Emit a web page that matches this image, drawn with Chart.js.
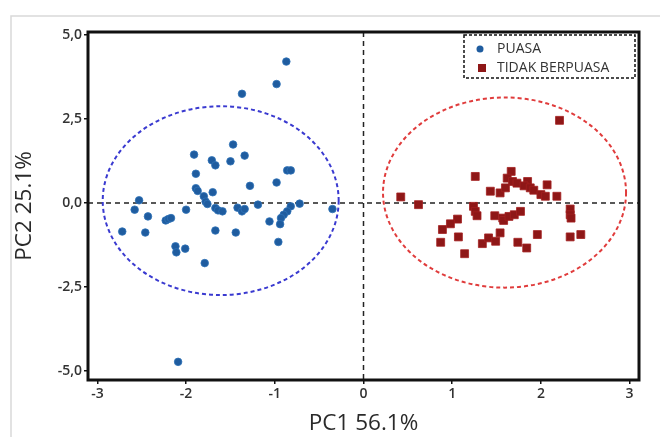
<!DOCTYPE html>
<html lang="id">
<head>
    <meta charset="UTF-8">
    <title>PCA Puasa vs Tidak Berpuasa</title>
    <script src="https://cdn.jsdelivr.net/npm/chart.js"></script>
    <style>
        body {
            margin: 0;
            padding: 0;
            background: #fff;
        }
        #wrap {
            width: 660px;
            height: 437px;
        }
    </style>
</head>
<body>
    <div id="wrap">
        <canvas id="pcaChart" width="660" height="437"></canvas>
    </div>

    <script>
        // scores: [PC1, PC2]
        const puasa = [
            [-0.87, 4.21], [-0.98, 3.54], [-1.37, 3.25], [-1.47, 1.74], [-1.91, 1.44],
            [-1.34, 1.41], [-1.71, 1.27], [-1.67, 1.12], [-1.50, 1.24], [-0.86, 0.97],
            [-0.82, 0.97], [-1.89, 0.87], [-0.98, 0.61], [-1.28, 0.51], [-1.89, 0.44],
            [-1.87, 0.36], [-1.70, 0.32], [-1.80, 0.20], [-2.53, 0.08], [-1.78, 0.04],
            [-1.76, -0.03], [-1.67, -0.15], [-1.64, -0.22], [-1.59, -0.25], [-1.42, -0.14],
            [-1.37, -0.25], [-1.34, -0.18], [-1.19, -0.05], [-0.72, -0.02], [-0.82, -0.10],
            [-0.86, -0.25], [-0.90, -0.35], [-0.93, -0.45], [-0.35, -0.18], [-2.58, -0.20],
            [-2.43, -0.40], [-2.00, -0.20], [-2.23, -0.52], [-2.20, -0.48], [-2.17, -0.45],
            [-2.72, -0.85], [-2.46, -0.88], [-1.67, -0.82], [-1.44, -0.88], [-1.06, -0.55],
            [-0.94, -0.63], [-0.96, -1.16], [-2.12, -1.29], [-2.11, -1.47], [-2.01, -1.36],
            [-1.79, -1.79], [-2.09, -4.73]
        ];
        const tidakBerpuasa = [
            [2.21, 2.46], [1.26, 0.79], [1.665, 0.94], [1.62, 0.74], [1.68, 0.64],
            [1.73, 0.59], [1.85, 0.64], [1.81, 0.51], [1.88, 0.45], [1.92, 0.38],
            [2.07, 0.54], [2.00, 0.25], [2.05, 0.20], [2.18, 0.20], [1.43, 0.35],
            [1.54, 0.30], [1.60, 0.45], [0.42, 0.18], [0.62, -0.05], [1.24, -0.10],
            [1.26, -0.25], [1.28, -0.38], [1.48, -0.38], [1.57, -0.45], [1.58, -0.52],
            [1.64, -0.40], [1.70, -0.35], [1.77, -0.25], [2.33, -0.18], [2.33, -0.35],
            [2.34, -0.45], [1.06, -0.48], [0.98, -0.62], [0.89, -0.79], [0.87, -1.17],
            [1.07, -1.01], [1.14, -1.51], [1.34, -1.21], [1.41, -1.04], [1.49, -1.14],
            [1.54, -0.89], [1.74, -1.17], [1.84, -1.34], [1.96, -0.94], [2.33, -1.01],
            [2.45, -0.94]
        ];
        const seriesNames = ["PUASA", "TIDAK BERPUASA"];

        // confidence ellipses: [centre PC1, centre PC2, half-width, half-height]
        const ellipsePuasa = [-1.61, 0.07, 1.33, 2.81];
        const ellipseTidak = [1.59, 0.31, 1.37, 2.83];

        const xTicks = [-3, -2, -1, 0, 1, 2, 3];
        const yTicks = [-5, -2.5, 0, 2.5, 5];
        const xTitle = "PC1 56.1%";
        const yTitle = "PC2 25.1%";

        const FONT = "'Open Sans', 'DejaVu Sans', sans-serif";
        const BLUE = "#1f5c9f";
        const RED = "#8e1717";

        function toPoints(list) {
            return list.map(p => ({ x: p[0], y: p[1] }));
        }

        function drawEllipse(ctx, xs, ys, e, color) {
            const cx = xs.getPixelForValue(e[0]);
            const cy = ys.getPixelForValue(e[1]);
            const rx = Math.abs(xs.getPixelForValue(e[0] + e[2]) - cx);
            const ry = Math.abs(ys.getPixelForValue(e[1] + e[3]) - cy);
            ctx.save();
            ctx.strokeStyle = color;
            ctx.lineWidth = 2;
            ctx.setLineDash([4, 3]);
            ctx.beginPath();
            ctx.ellipse(cx, cy, rx, ry, 0, 0, Math.PI * 2);
            ctx.stroke();
            ctx.restore();
        }

        const backdrop = {
            id: "backdrop",
            beforeDraw(chart) {
                const ctx = chart.ctx;
                ctx.save();
                ctx.fillStyle = "#fff";
                ctx.fillRect(0, 0, chart.width, chart.height);
                ctx.strokeStyle = "#d9d9d9";
                ctx.lineWidth = 1.5;
                ctx.beginPath();
                ctx.moveTo(11, chart.height);
                ctx.lineTo(11, 16);
                ctx.lineTo(chart.width, 16);
                ctx.stroke();
                ctx.restore();
            },
            beforeDatasetsDraw(chart) {
                const ctx = chart.ctx;
                const xs = chart.scales.x, ys = chart.scales.y;
                const a = chart.chartArea;
                const x0 = xs.getPixelForValue(0), y0 = ys.getPixelForValue(0);
                ctx.save();
                ctx.strokeStyle = "#222";
                ctx.lineWidth = 1.5;
                ctx.setLineDash([5, 4]);
                ctx.beginPath();
                ctx.moveTo(x0, a.top);
                ctx.lineTo(x0, a.bottom);
                ctx.moveTo(a.left, y0);
                ctx.lineTo(a.right, y0);
                ctx.stroke();
                ctx.restore();
                drawEllipse(ctx, xs, ys, ellipsePuasa, "#3a3ad0");
                drawEllipse(ctx, xs, ys, ellipseTidak, "#e03c3c");
            },
            afterDraw(chart) {
                const ctx = chart.ctx;
                const a = chart.chartArea;
                ctx.save();
                ctx.strokeStyle = "#111";
                ctx.lineWidth = 3;
                ctx.strokeRect(a.left, a.top, a.right - a.left, a.bottom - a.top);

                // legend box in the top right corner
                ctx.lineWidth = 1.5;
                ctx.setLineDash([3, 2]);
                ctx.strokeRect(464, 35, 171, 43);
                ctx.setLineDash([]);
                ctx.fillStyle = BLUE;
                ctx.beginPath();
                ctx.arc(480, 49, 3.5, 0, Math.PI * 2);
                ctx.fill();
                ctx.fillStyle = RED;
                ctx.fillRect(478, 64, 8, 8);
                ctx.fillStyle = "#333";
                ctx.font = "14px " + FONT;
                ctx.textBaseline = "middle";
                ctx.fillText(seriesNames[0], 497, 49);
                ctx.fillText(seriesNames[1], 497, 68);
                ctx.restore();
            }
        };

        const tickFont = { family: FONT, size: 14, weight: "600" };
        const titleFont = { family: FONT, size: 22.5 };

        new Chart(document.getElementById("pcaChart"), {
            type: "scatter",
            data: {
                datasets: [
                    {
                        label: seriesNames[0],
                        data: toPoints(puasa),
                        pointStyle: "circle",
                        pointRadius: 3.8,
                        backgroundColor: BLUE,
                        borderColor: "#2f72b8",
                        borderWidth: 0.8
                    },
                    {
                        label: seriesNames[1],
                        data: toPoints(tidakBerpuasa),
                        pointStyle: "rect",
                        pointRadius: 5.6,
                        backgroundColor: RED,
                        borderColor: "#a32020",
                        borderWidth: 0.8
                    }
                ]
            },
            options: {
                responsive: false,
                animation: false,
                layout: { padding: { left: 0, right: 21, top: 32, bottom: 0 } },
                plugins: {
                    legend: { display: false },
                    tooltip: { enabled: false }
                },
                scales: {
                    x: {
                        type: "linear",
                        min: -3.106,
                        max: 3.106,
                        afterBuildTicks: s => { s.ticks = xTicks.map(v => ({ value: v })); },
                        afterFit: s => { s.height = 57; },
                        grid: { drawOnChartArea: false, drawTicks: true, tickLength: 4, color: "#111", lineWidth: 1.5 },
                        border: { display: false },
                        ticks: {
                            padding: 2,
                            color: "#333",
                            font: tickFont,
                            maxRotation: 0,
                            callback: v => String(v)
                        },
                        title: {
                            display: true,
                            text: xTitle,
                            color: "#2a2a2a",
                            font: titleFont,
                            padding: { top: 0, bottom: 0 }
                        }
                    },
                    y: {
                        type: "linear",
                        min: -5.27,
                        max: 5.09,
                        afterBuildTicks: s => { s.ticks = yTicks.map(v => ({ value: v })); },
                        afterFit: s => { s.width = 88; },
                        grid: { drawOnChartArea: false, drawTicks: true, tickLength: 4, color: "#111", lineWidth: 1.5 },
                        border: { display: false },
                        ticks: {
                            padding: 2,
                            color: "#333",
                            font: tickFont,
                            callback: v => v.toFixed(1).replace(".", ",")
                        },
                        title: {
                            display: true,
                            text: yTitle,
                            color: "#2a2a2a",
                            font: titleFont,
                            padding: { top: 11, bottom: 0 }
                        }
                    }
                }
            },
            plugins: [backdrop]
        });
    </script>
</body>
</html>
